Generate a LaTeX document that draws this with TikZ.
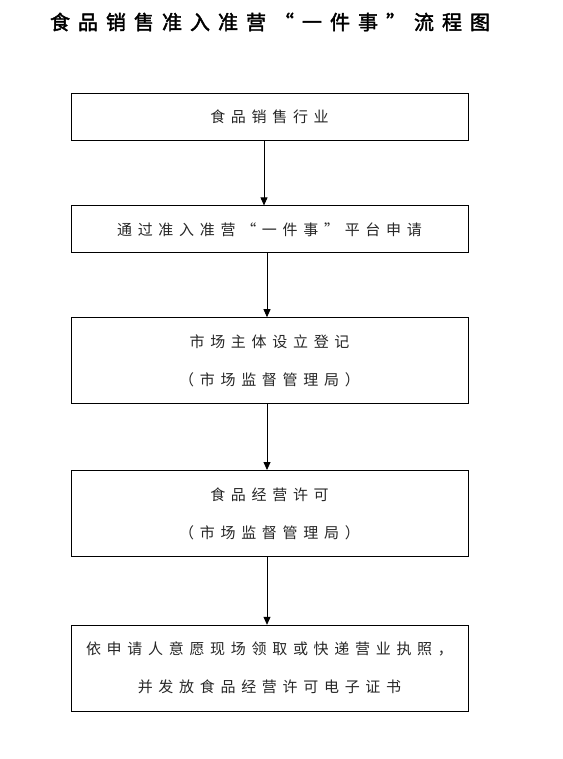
\documentclass[tikz,border=0pt]{standalone}
\usepackage{fontspec}
\newfontfamily\cjk[LetterSpace=38]{Noto Sans CJK SC}
\newfontfamily\titlecjk[LetterSpace=40,FakeBold=2]{Noto Sans CJK SC}
\usetikzlibrary{positioning,arrows.meta}

\tikzset{
    stepbox/.style={draw, line width=0.8pt, minimum width=397pt,
        align=center, text=black!85,
        font=\cjk\fontsize{15}{38}\selectfont},
    flow/.style={line width=0.8pt, -{Triangle[length=8pt,width=7pt]}}
}

\begin{document}
\begin{tikzpicture}[x=1pt,y=-1pt]
    \useasboundingbox (0,0) rectangle (562,759);
    \node (title) at (270,22) {\titlecjk\fontsize{20}{20}\selectfont 食品销售准入准营“一件事”流程图};
    \begin{scope} % Steps
        \node[stepbox, minimum height=47pt] (trade) at (269.5,116.5) {食品销售行业};
        \node[stepbox, minimum height=47pt, below=65pt of trade] (apply)
            {通过准入准营“一件事”平台申请};
        \node[stepbox, minimum height=86pt, below=64pt of apply] (register)
            {市场主体设立登记\\（市场监督管理局）};
        \node[stepbox, minimum height=86pt, below=66pt of register] (permit)
            {食品经营许可\\（市场监督管理局）};
        \node[stepbox, minimum height=86pt, below=68pt of permit] (issue)
            {依申请人意愿现场领取或快递营业执照，\\并发放食品经营许可电子证书};
    \end{scope}
    \begin{scope} % Arrows
        \draw[flow] ([xshift=-5.5pt]trade.south) -- ([xshift=-5.5pt]apply.north);
        \draw[flow] ([xshift=-2.5pt]apply.south) -- ([xshift=-2.5pt]register.north);
        \draw[flow] ([xshift=-2.5pt]register.south) -- ([xshift=-2.5pt]permit.north);
        \draw[flow] ([xshift=-2.5pt]permit.south) -- ([xshift=-2.5pt]issue.north);
    \end{scope}
\end{tikzpicture}
\end{document}
